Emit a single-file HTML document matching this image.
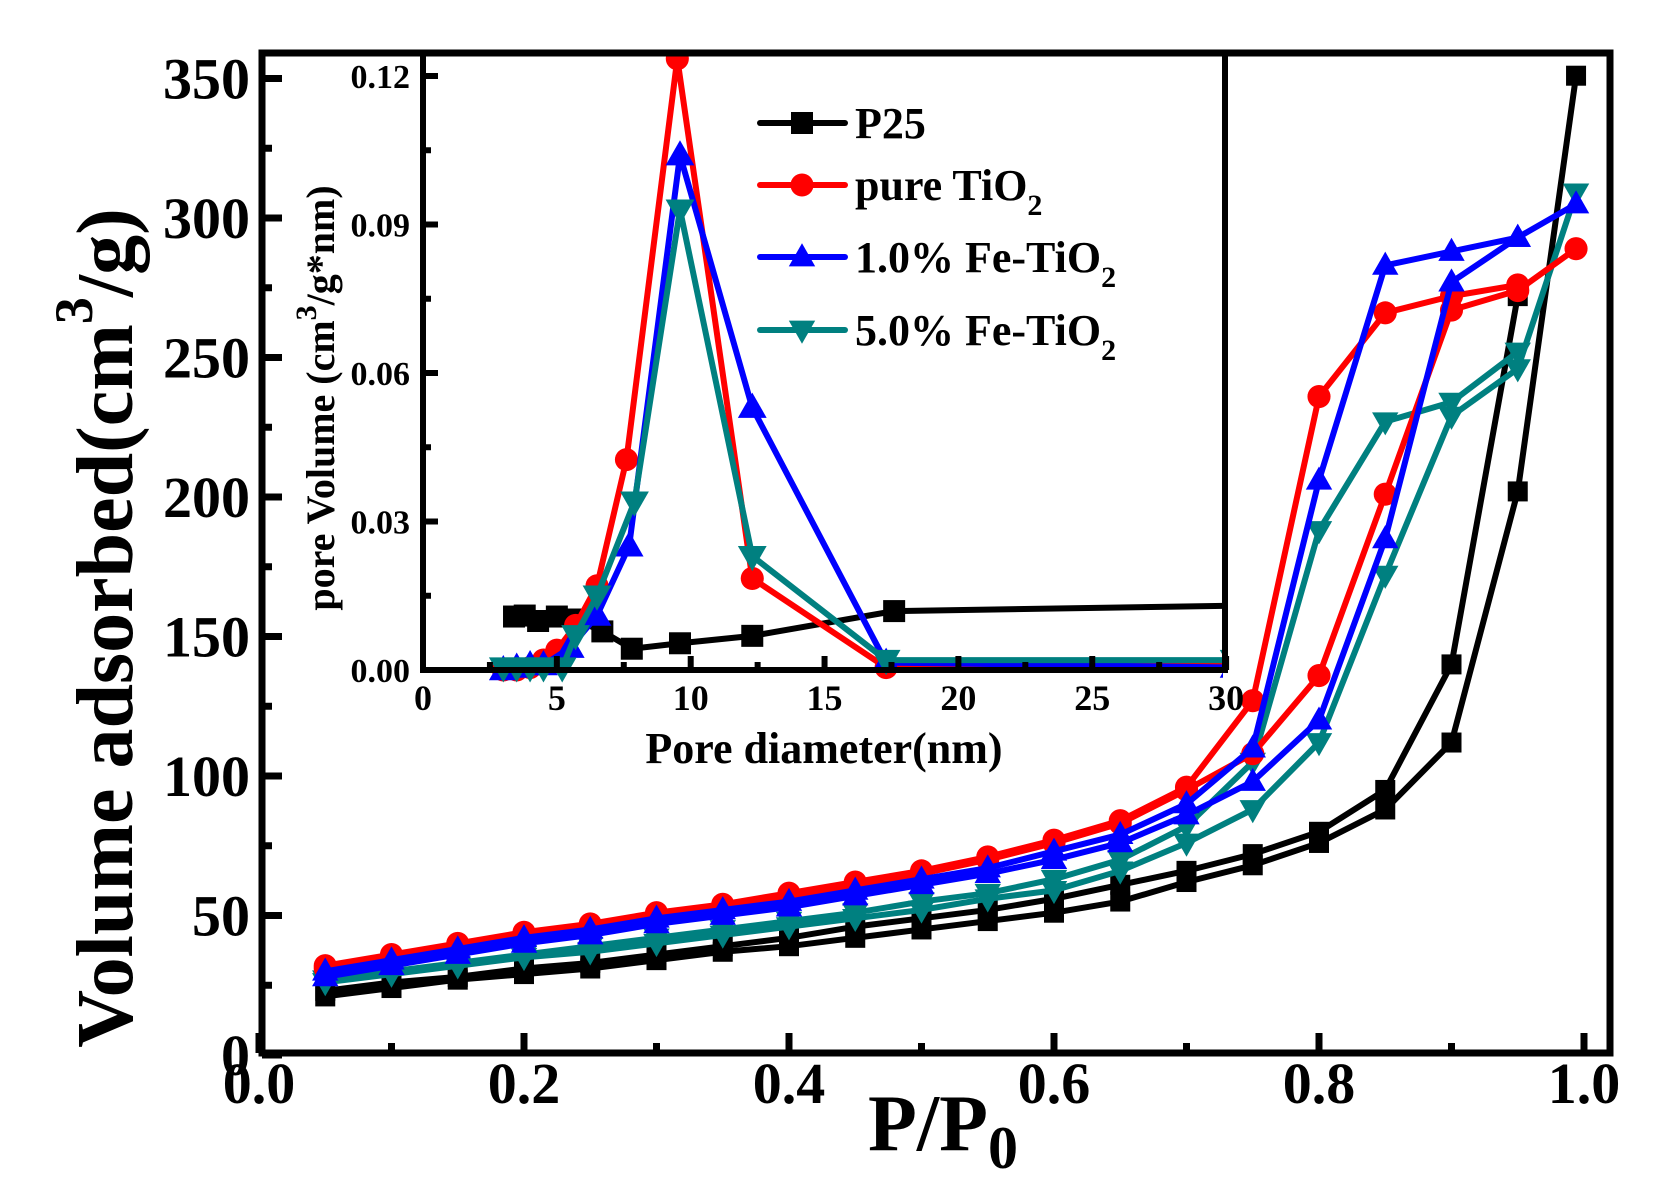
<!DOCTYPE html>
<html><head><meta charset="utf-8"><style>
html,body{margin:0;padding:0;background:#fff;}
svg{display:block;font-family:"Liberation Serif",serif;font-weight:bold;}
</style></head><body>
<svg id="chart" width="1669" height="1196" viewBox="0 0 1669 1196">
<defs><clipPath id="insetClip"><rect x="424" y="55" width="799" height="640"/></clipPath></defs>
<g id="main"></g>
<rect x="424" y="55" width="800" height="613" fill="#fff"/>
<g id="inset" clip-path="url(#insetClip)"></g>
<g id="axes"></g>
<g id="legend"></g>
<text x="0" y="0" transform="translate(132,628) rotate(-90)" text-anchor="middle" font-size="80">Volume adsorbed(cm<tspan dy="-40" font-size="54">3</tspan><tspan dy="40">/g)</tspan></text>
<text x="868" y="1150" font-size="80">P/P<tspan dy="18" font-size="60">0</tspan></text>
<text x="0" y="0" transform="translate(334,398) rotate(-90)" text-anchor="middle" font-size="40">pore Volume (cm<tspan dy="-18" font-size="30">3</tspan><tspan dy="18">/g*nm)</tspan></text>
<text x="824" y="763" text-anchor="middle" font-size="44">Pore diameter(nm)</text>
</svg>
<script>
// ---- main chart data ----
const pAds = [0.05,0.1,0.15,0.2,0.25,0.3,0.35,0.4,0.45,0.5,0.55,0.6,0.65,0.7,0.75,0.8,0.85,0.9,0.95,0.994];
const pDes = [0.95,0.9,0.85,0.8,0.75,0.7,0.65,0.6,0.55,0.5,0.45,0.4,0.35,0.3,0.25,0.2,0.15,0.1,0.05];
const p25Ads = [21,24,27,29,31,34,37,39,42,45,48,51,55,62,68,76,88,112,202,351];
const p25Des = [272,140,95,80,72,66,61,56,52,49,46,42,39,36,33,31,28,26,23];
const pureAds = [31,35,39,43,46,50,53,57,61,65,70,76,83,95,108,136,201,267,274,289];
const pureDes = [276,272,266,236,127,96,84,77,71,66,62,58,54,51,47,44,40,36,32];
const fe1Ads = [28,32,36,40,43,47,50,53,57,61,65,70,76,86,98,120,185,277,293,305];
const fe1Des = [293,288,283,206,110,90,79,73,67,63,59,55,52,49,45,42,38,34,30];
const fe5Ads = [26,29,32,35,37,40,43,46,49,52,56,59,66,76,88,112,172,229,246,309];
const fe5Des = [252,234,227,188,105,82,70,63,58,55,51,48,45,42,39,36,33,30,27];
const mainYTicks = [0,50,100,150,200,250,300,350];
const mainXTicks = [0.0,0.2,0.4,0.6,0.8,1.0];
// ---- inset data ----
const p25D = [3.4,3.8,4.3,5.0,5.7,6.7,7.8,9.6,12.3,17.6,30.5];
const p25V = [0.0108,0.011,0.0099,0.0108,0.0102,0.0078,0.0043,0.0054,0.0069,0.0119,0.013];
const pureD = [3.0,3.5,4.0,4.5,5.0,5.7,6.5,7.6,9.5,12.3,17.3,30.3];
const pureV = [0,0,0.0005,0.002,0.004,0.009,0.017,0.0425,0.1235,0.0185,0.0005,0.001];
const fe1D = [3.0,3.5,4.0,4.5,5.5,6.5,7.7,9.6,12.3,17.3,30.3];
const fe1V = [0,0.0005,0.001,0.001,0.0045,0.011,0.025,0.104,0.053,0.0015,0.0005];
const fe5D = [3.0,3.5,4.0,4.5,5.2,5.7,6.5,7.9,9.6,12.3,17.3,30.3];
const fe5V = [0.0005,0.0005,0.0005,0.0005,0.0005,0.007,0.015,0.034,0.093,0.023,0.002,0.002];
const insetYTicks = [0.00,0.03,0.06,0.09,0.12];
const insetXTicks = [0,5,10,15,20,25,30];
const legendLabels = ["P25","pure TiO","1.0% Fe-TiO","5.0% Fe-TiO"];

const NS="http://www.w3.org/2000/svg";
const mx=p=>259+p*1325, my=v=>1055-v*2.79;
const ix=d=>423+d*26.77, iy=v=>670-v*4950;
function mk(tag,parent,attrs){const e=document.createElementNS(NS,tag);for(const k in attrs)e.setAttribute(k,attrs[k]);parent.appendChild(e);return e;}
function marker(g,shape,x,y,color,s){
  let e;
  if(shape==="sq") e=mk("rect",g,{x:x-s,y:y-s,width:2*s,height:2*s,fill:color});
  else if(shape==="ci") e=mk("circle",g,{cx:x,cy:y,r:s*1.05,fill:color});
  else if(shape==="up") e=mk("polygon",g,{points:`${x},${y-s*1.25} ${x-s*1.2},${y+s*0.85} ${x+s*1.2},${y+s*0.85}`,fill:color});
  else e=mk("polygon",g,{points:`${x},${y+s*1.25} ${x-s*1.2},${y-s*0.85} ${x+s*1.2},${y-s*0.85}`,fill:color});
  return e;
}
function series(g,xs,ys,fx,fy,color,shape,s,name){
  const grp=mk("g",g,{});
  
  
  const pts=xs.map((x,i)=>`${fx(x)},${fy(ys[i])}`).join(" ");
  mk("polyline",grp,{points:pts,fill:"none",stroke:color,"stroke-width":6,"stroke-linejoin":"round"});
  xs.forEach((x,i)=>{const m=marker(grp,shape,fx(x),fy(ys[i]),color,s);
    
    });
}
const main=document.getElementById("main");
const C={p25:"#000",pure:"#ff0000",fe1:"#0000ff",fe5:"#008080"};
series(main,pAds,p25Ads,mx,my,C.p25,"sq",10,"p25-adsorption");
series(main,pDes,p25Des,mx,my,C.p25,"sq",10,"p25-desorption");
series(main,pAds,fe5Ads,mx,my,C.fe5,"dn",11,"fe5-adsorption");
series(main,pDes,fe5Des,mx,my,C.fe5,"dn",11,"fe5-desorption");
series(main,pAds,pureAds,mx,my,C.pure,"ci",11,"pure-adsorption");
series(main,pDes,pureDes,mx,my,C.pure,"ci",11,"pure-desorption");
series(main,pAds,fe1Ads,mx,my,C.fe1,"up",11,"fe1-adsorption");
series(main,pDes,fe1Des,mx,my,C.fe1,"up",11,"fe1-desorption");

const inset=document.getElementById("inset");
series(inset,p25D,p25V,ix,iy,C.p25,"sq",11,"inset-p25");
series(inset,pureD,pureV,ix,iy,C.pure,"ci",11,"inset-pure");
series(inset,fe1D,fe1V,ix,iy,C.fe1,"up",12,"inset-fe1");
series(inset,fe5D,fe5V,ix,iy,C.fe5,"dn",12,"inset-fe5");

const axes=document.getElementById("axes");
const fr=mk("rect",axes,{x:262,y:53,width:1348,height:1000,fill:"none",stroke:"#000","stroke-width":7});

mainYTicks.forEach((v,i)=>{
  const y=my(v);
  mk("line",axes,{x1:262,x2:282,y1:y,y2:y,stroke:"#000","stroke-width":7});
  if(i<mainYTicks.length-1){const ym=my(v+25);mk("line",axes,{x1:262,x2:272,y1:ym,y2:ym,stroke:"#000","stroke-width":7});}
  const t=mk("text",axes,{x:250,y:y+20,"text-anchor":"end","font-size":58});t.textContent=v;
  
});
mainXTicks.forEach((p,i)=>{
  const x=mx(p);
  mk("line",axes,{x1:x,x2:x,y1:1053,y2:1033,stroke:"#000","stroke-width":7});
  if(i<mainXTicks.length-1){const xm=mx(p+0.1);mk("line",axes,{x1:xm,x2:xm,y1:1053,y2:1043,stroke:"#000","stroke-width":7});}
  const t=mk("text",axes,{x:x,y:1103,"text-anchor":"middle","font-size":58});t.textContent=p.toFixed(1);
  
});
const ifr=mk("polyline",axes,{points:"423,53 423,670 1225,670 1225,53",fill:"none",stroke:"#000","stroke-width":6});

insetYTicks.forEach((v,i)=>{
  const y=iy(v);
  mk("line",axes,{x1:423,x2:438,y1:y,y2:y,stroke:"#000","stroke-width":6});
  if(i<insetYTicks.length-1){const ym=iy(v+0.015);mk("line",axes,{x1:423,x2:431,y1:ym,y2:ym,stroke:"#000","stroke-width":6});}
  const t=mk("text",axes,{x:410,y:y+12,"text-anchor":"end","font-size":34});t.textContent=v.toFixed(2);
  
});
insetXTicks.forEach((d,i)=>{
  const x=ix(d);
  mk("line",axes,{x1:x,x2:x,y1:670,y2:656,stroke:"#000","stroke-width":6});
  if(i<insetXTicks.length-1){const xm=ix(d+2.5);mk("line",axes,{x1:xm,x2:xm,y1:670,y2:662,stroke:"#000","stroke-width":6});}
  const t=mk("text",axes,{x:x,y:710,"text-anchor":"middle","font-size":36});t.textContent=d;
  
});
const lg=document.getElementById("legend");
const lcol=[C.p25,C.pure,C.fe1,C.fe5], lsh=["sq","ci","up","dn"], lyy=[123,185,257,330];
legendLabels.forEach((lab,i)=>{
  const g=mk("g",lg,{});
  
  
  mk("line",g,{x1:760,x2:845,y1:lyy[i],y2:lyy[i],stroke:lcol[i],"stroke-width":6,"stroke-linecap":"round"});
  marker(g,lsh[i],802,lyy[i],lcol[i],11);
  const t=mk("text",g,{x:855,y:lyy[i]+15,"font-size":44});
  t.textContent=lab;
  if(i>0){const s=mk("tspan",t,{dy:15,"font-size":30});s.textContent="2";}
});
</script>
</body></html>
